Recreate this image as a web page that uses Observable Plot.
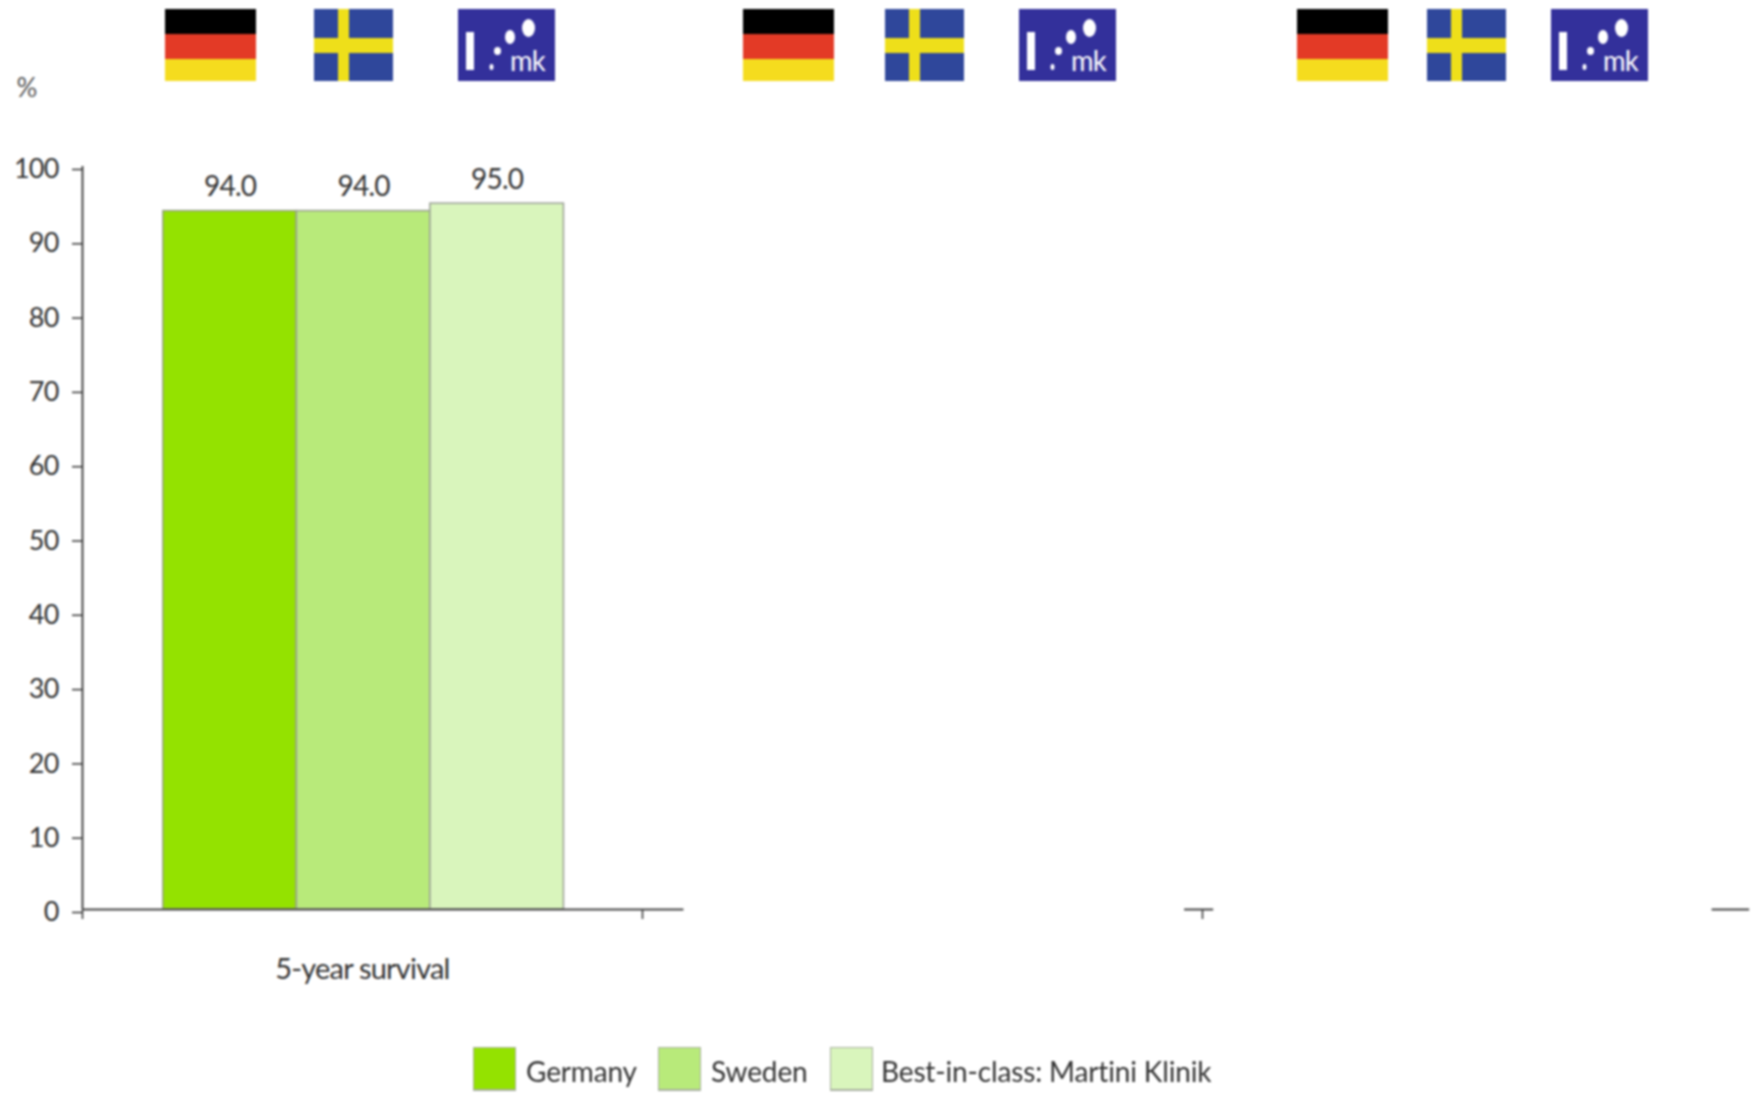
<!DOCTYPE html>
<html><head><meta charset="utf-8">
<script src="https://cdn.jsdelivr.net/npm/d3@7"></script>
<script src="https://cdn.jsdelivr.net/npm/@observablehq/plot@0.6"></script>
<style>
html,body{margin:0;padding:0;background:#fff;overflow:hidden;width:1758px;height:1094px}
#wrap{position:relative;width:1758px;height:1094px;filter:blur(0.8px)}
#wrap svg{display:block;position:absolute;left:0;top:0}
.lg{position:absolute;top:1047px;height:44px;box-sizing:border-box;border:1.5px solid #a9b0a2;border-bottom-width:2px}
.lt{position:absolute;top:1053px;font:28px Lato,sans-serif;color:#333;white-space:nowrap;line-height:36px;letter-spacing:-0.15px}
</style></head><body><div id="wrap"></div>
<script>
const groups = ["5-year survival", "", ""];
const series = ["Germany", "Sweden", "Best-in-class: Martini Klinik"];
const values = [94.0, 94.0, 95.0];
const colors = ["#94E200", "#B8EA7A", "#D9F5BC"];
const yTicks = [0,10,20,30,40,50,60,70,80,90,100];
const groupTicks = [0,1,2];
const baselineSpans = [[0,1.074],[1.968,2.02],[2.91,2.977]];
const barUnit = 0.2385;
const font = 'Lato,sans-serif';

const bars = values.map((v,i)=>({series:series[i],value:v,group:0,
  x1:0.502+(i-1.5)*barUnit,x2:0.502+(i-0.5)*barUnit}));

function flags(){
  const g = d3.create("svg:g");
  const rect=(x,y,w,h,f)=>g.append("rect").attr("x",x).attr("y",y).attr("width",w).attr("height",h).attr("fill",f);
  const ell=(x,y,rx,ry)=>g.append("ellipse").attr("cx",x).attr("cy",y).attr("rx",rx).attr("ry",ry).attr("fill","#fff");
  [165,743,1297].forEach(x=>{
    rect(x,9,91,25,"#000");rect(x,34,91,25,"#E33A26");rect(x,59,91,22,"#F5DC1E");
  });
  [314,885,1427].forEach(x=>{
    rect(x,9,79,72,"#2F479B");rect(x+24,9,11,72,"#EEDF1A");rect(x,38,79,15,"#EEDF1A");
  });
  [458,1019,1551].forEach(x=>{
    rect(x,9,97,72,"#33309B");rect(x+8,32,8,38,"#fff");
    ell(x+70.5,28,6.5,9);ell(x+52,37,5,7);ell(x+39.5,51,3.5,4);ell(x+33.5,67,2,3);
    g.append("text").attr("x",x+52).attr("y",71).attr("fill","#fff").attr("font-size",28)
      .attr("text-anchor","start").attr("font-family",font).attr("textLength",35).attr("lengthAdjust","spacingAndGlyphs").text("mk");
  });
  return g.node();
}

const plot = Plot.plot({
  width:1758, height:1040,
  marginLeft:82, marginTop:166, marginBottom:131, marginRight:0,
  style:{fontFamily:font, fontSize:"28px", color:"#333", background:"#fff", letterSpacing:"-0.8px"},
  x:{domain:[0,3], range:[82,1762], axis:null},
  y:{domain:[0,100], axis:null},
  color:{domain:series, range:colors},
  marks:[
    Plot.rectY(bars,{x1:"x1",x2:"x2",y1:0,y2:"value",fill:"series",stroke:"#9a9f95",strokeWidth:1.5}),
    Plot.axisY(yTicks,{anchor:"left",tickSize:10,tickPadding:14,label:null,stroke:"#333",strokeWidth:1.5,fontSize:27,fill:"#333",dy:3}),
    Plot.axisX(groupTicks,{anchor:"bottom",tickSize:10,tickFormat:()=>"",label:null,stroke:"#333",strokeWidth:1.5}),
    Plot.ruleX([0],{y1:0,y2:100,stroke:"#333",strokeWidth:1.8}),
    ...baselineSpans.map(s=>Plot.ruleY([0],{x1:s[0],x2:s[1],stroke:"#444",strokeWidth:2})),
    Plot.text(bars,{x:d=>(d.x1+d.x2)/2,y:"value",text:d=>d.value.toFixed(1),dy:-24,fill:"#333",fontSize:28}),
    Plot.text(groups.filter(Boolean),{x:()=>0.5,y:()=>0,text:d=>d,dy:60,fill:"#333",fontSize:29}),
    Plot.text(["%"],{x:()=>-0.1,y:()=>110.5,text:d=>d,fill:"#555",fontSize:26}),
    flags
  ]
});
const wrap=document.getElementById("wrap");
wrap.append(plot);
const swatchX=[473,658,830], textX=[526,711,881];
series.forEach((s,i)=>{
  const b=document.createElement("div");b.className="lg";b.style.left=swatchX[i]+"px";b.style.width="43px";b.style.background=colors[i];wrap.append(b);
  const t=document.createElement("div");t.className="lt";t.style.left=textX[i]+"px";t.textContent=s;wrap.append(t);
});
</script></body></html>
